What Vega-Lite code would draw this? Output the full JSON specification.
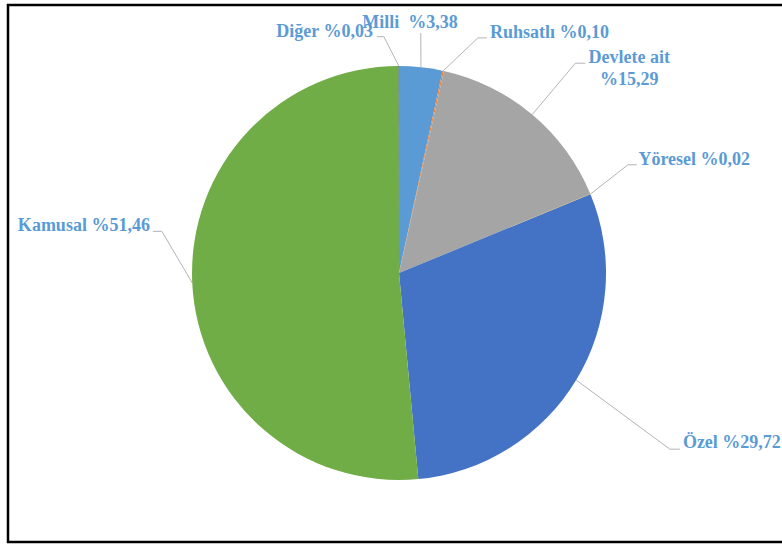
{
  "$schema": "https://vega.github.io/schema/vega-lite/v6.json",
  "width": 782,
  "height": 545,
  "autosize": {"type": "fit", "contains": "padding"},
  "padding": {"left": 8, "top": 5, "right": -3, "bottom": 3},
  "background": "white",
  "config": {"view": {"stroke": "#000000", "strokeWidth": 2.5}},
  "data": {"values": [
    {"category": "Milli", "value": 3.38},
    {"category": "Ruhsatlı", "value": 0.10},
    {"category": "Devlete ait", "value": 15.29},
    {"category": "Yöresel", "value": 0.02},
    {"category": "Özel", "value": 29.72},
    {"category": "Kamusal", "value": 51.46},
    {"category": "Diğer", "value": 0.03}
  ]},
  "transform": [
    {"window": [{"op": "row_number", "as": "rn"}]},
    {"stack": "value", "groupby": [], "sort": [{"field": "rn", "order": "ascending"}], "as": ["v0", "v1"]},
    {"calculate": "indexof(['Milli','Ruhsatlı','Devlete ait','Yöresel','Özel','Kamusal','Diğer'], datum.category)", "as": "idx"},
    {"calculate": "(datum.v0 + datum.v1) / 2 * 3.6", "as": "ang"},
    {"calculate": "sin(datum.ang * PI / 180)", "as": "sx"},
    {"calculate": "cos(datum.ang * PI / 180)", "as": "sy"},
    {"calculate": "[1.164,1.198,1.324,1.223,1.561,1.163,1.144][datum.idx]", "as": "er"},
    {"calculate": "datum.ang + [-0.9,6.2,0,-2.9,1.9,12.7,-3.6][datum.idx]", "as": "ea"},
    {"calculate": "datum.er * sin(datum.ea * PI / 180)", "as": "ex"},
    {"calculate": "datum.er * cos(datum.ea * PI / 180)", "as": "ey"},
    {"calculate": "datum.ex + [0,9,10,9,10,-9,-7][datum.idx] / 207", "as": "tx"},
    {"calculate": "datum.tx + [-10.7,3,44,1.5,3,-3,-4][datum.idx] / 207", "as": "lx"},
    {"calculate": "datum.ey + [5,0,0,0,0.7,0,0][datum.idx] / 207", "as": "ly"},
    {"calculate": "['center','left','center','left','left','right','right'][datum.idx]", "as": "al"},
    {"calculate": "datum.category + ['\u00a0 ',' ','\\n',' ',' ',' ',' '][datum.idx] + '%' + replace(format(datum.value, '.2f'), '.', ',')", "as": "label"}
  ],
  "layer": [
    {
      "mark": {"type": "arc", "radius": 207},
      "encoding": {
        "x": {"datum": 0, "type": "quantitative", "scale": {"domain": [-1.88889, 1.86473], "nice": false, "zero": false}, "axis": null},
        "y": {"datum": 0, "type": "quantitative", "scale": {"domain": [-1.29952, 1.29469], "nice": false, "zero": false}, "axis": null},
        "theta": {"field": "v0", "type": "quantitative", "scale": {"domain": [0, 100]}},
        "theta2": {"field": "v1"},
        "color": {
          "field": "category", "type": "nominal",
          "scale": {
            "domain": ["Milli", "Ruhsatlı", "Devlete ait", "Yöresel", "Özel", "Kamusal", "Diğer"],
            "range": ["#5B9BD5", "#ED7D31", "#A5A5A5", "#FFC000", "#4472C4", "#70AD47", "#264478"]
          },
          "legend": null
        }
      }
    },
    {
      "mark": {"type": "rule", "color": "#B4B4B4", "strokeWidth": 1},
      "encoding": {
        "x": {"field": "sx", "type": "quantitative"},
        "y": {"field": "sy", "type": "quantitative"},
        "x2": {"field": "ex"},
        "y2": {"field": "ey"}
      }
    },
    {
      "mark": {"type": "rule", "color": "#B4B4B4", "strokeWidth": 1},
      "encoding": {
        "x": {"field": "ex", "type": "quantitative"},
        "y": {"field": "ey", "type": "quantitative"},
        "x2": {"field": "tx"},
        "y2": {"field": "ey"}
      }
    },
    {
      "transform": [{"filter": "datum.al == 'left'"}],
      "mark": {"type": "text", "align": "left", "baseline": "alphabetic", "font": "Liberation Serif", "fontSize": 18, "fontWeight": "bold", "color": "#5B9BD5"},
      "encoding": {
        "x": {"field": "lx", "type": "quantitative"},
        "y": {"field": "ly", "type": "quantitative"},
        "text": {"field": "label", "type": "nominal"}
      }
    },
    {
      "transform": [{"filter": "datum.al == 'right'"}],
      "mark": {"type": "text", "align": "right", "baseline": "alphabetic", "font": "Liberation Serif", "fontSize": 18, "fontWeight": "bold", "color": "#5B9BD5"},
      "encoding": {
        "x": {"field": "lx", "type": "quantitative"},
        "y": {"field": "ly", "type": "quantitative"},
        "text": {"field": "label", "type": "nominal"}
      }
    },
    {
      "transform": [{"filter": "datum.al == 'center'"}],
      "mark": {"type": "text", "align": "center", "baseline": "alphabetic", "lineBreak": "\n", "lineHeight": 22, "font": "Liberation Serif", "fontSize": 18, "fontWeight": "bold", "color": "#5B9BD5"},
      "encoding": {
        "x": {"field": "lx", "type": "quantitative"},
        "y": {"field": "ly", "type": "quantitative"},
        "text": {"field": "label", "type": "nominal"}
      }
    }
  ]
}
